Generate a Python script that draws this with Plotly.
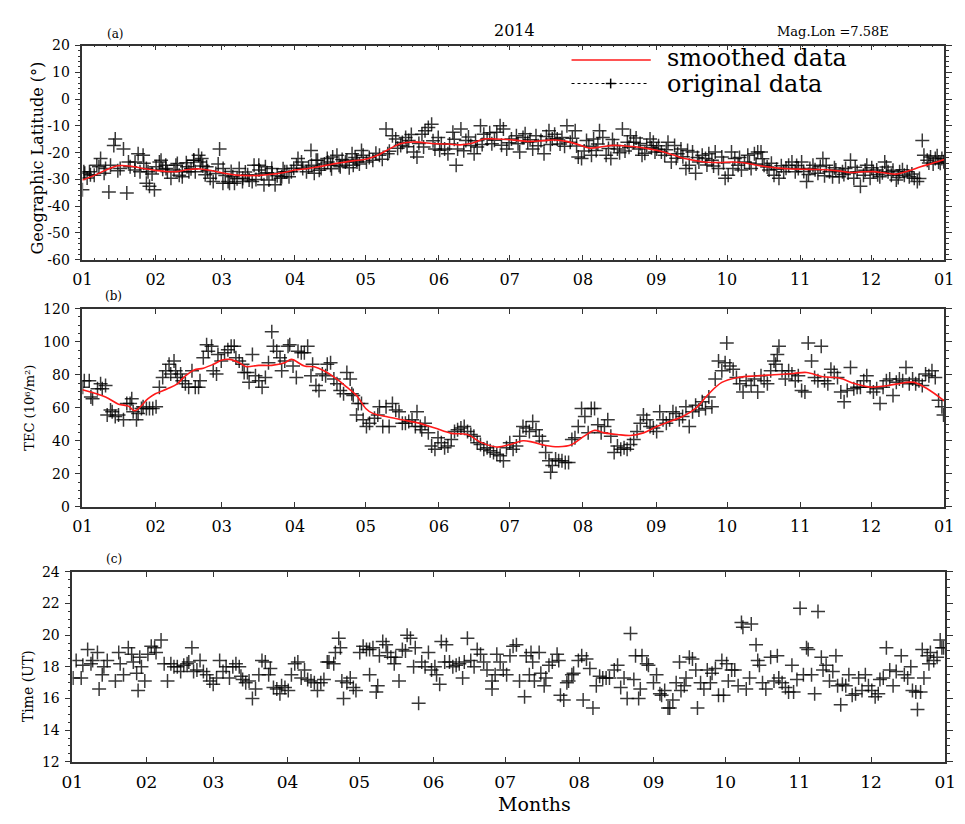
import plotly.graph_objects as go

# ---------------- data ----------------
month_days = [0, 31, 59, 90, 120, 151, 181, 212, 243, 273, 304, 334, 365]
month_labels = ["01", "02", "03", "04", "05", "06", "07", "08", "09", "10", "11", "12", "01"]

lat_ticks = [20, 10, 0, -10, -20, -30, -40, -50, -60]
lat_labels = ["20", "10", "0", "-10", "-20", "-30", "-40", "-50", "-60"]
tec_ticks = [0, 20, 40, 60, 80, 100, 120]
time_ticks = [12, 14, 16, 18, 20, 22, 24]

# (a) geographic latitude - original data (day of year, degrees)
a_day = [0, 1, 3, 5, 7, 7.7, 9.8, 11.2, 11.9, 13.3, 13.9, 17.4, 18.8, 19.5, 20.2, 22.2, 23.6, 25.7, 27.1, 28.4,
         30.5, 27.8, 31.2, 33.3, 35.3, 36, 38.8, 40.2, 42.3, 44.3, 47.1, 47.8, 49.2, 50.5, 52.6, 55.4, 58.1, 59.5,
         62.3, 63.7, 66.4, 67.8, 70.6, 71.9, 74.7, 77.5, 80.2, 81.6, 84.4, 85.7, 88.5, 91.3, 93.3, 96.8, 98.2,
         99.6, 103.7, 105.1, 107.8, 109.2, 112, 114.7, 116.1, 118.2,
         0.6, 3.4, 6.1, 9.2, 16, 22.3, 24.4, 27.1, 32.6, 35.4, 37.5, 39.6, 42.3, 45.1, 47.2, 49.9, 52, 54.1, 59.6,
         61.7, 64.4, 67.9, 70, 72.7, 74.8, 76.9, 79, 80.4, 83.9, 86.6, 90.7, 92.8, 94.9, 97, 99, 101.1, 103.9, 106,
         108.7, 111.4, 114.2, 116.3,
         2, 15, 26, 29.5, 34, 41, 44, 46, 51, 53, 56.5, 57.5, 60.5, 63, 65.5, 69, 73.5, 75.8, 78.2, 82.5, 85, 87.5,
         89.5, 95.8, 100.3, 102.5, 105.5, 110, 113, 115.5, 117.3,
         118.9, 120.3, 123, 125.8, 128.6, 129.3, 131.3, 132.7, 134.8, 136.9, 138.2, 140.3, 141.7, 143.8, 145.1,
         146.5, 147.9, 149.3, 150.7, 152, 153.4, 154.8, 156.9, 158.3, 158.9, 160.3, 162.4, 164.5, 165.9, 167.2,
         168.6, 170, 171.4, 173.4, 175.5, 176.9, 178.3, 179.7, 181.7, 183.8, 185.2, 186.6, 188.6, 190.7, 192.1,
         194.2, 195.5, 197.6, 199, 201.1, 203.1, 205.2, 206.6, 208.7, 210, 211.4, 213.5, 215.6, 217.6, 219, 220.4,
         221.8, 223.8, 225.2, 226.6, 228.7, 230.8, 232.1, 233.5, 235.6, 237, 239, 240.4, 241.8, 242.5,
         121.5, 124.3, 127, 130, 133.5, 135.5, 137.5, 139.3, 142.5, 144.5, 148.5, 151.3, 155.5, 157.5, 161.5, 163.5,
         166.5, 169.3, 172.5, 174.5, 177.5, 180.7, 184.5, 187.5, 189.6, 193, 196.5, 198.2, 200, 202.3, 204.2, 207.5,
         209.3, 212.5, 214.5, 216.5, 218.3, 222.8, 224.5, 227.5, 229.8, 231.5, 234.5, 236.2, 238.2, 241,
         243.2, 245.2, 246.6, 248, 249.4, 250.8, 252.1, 253.5, 255.6, 257, 258.4, 259.7, 261.1, 262.5, 263.9, 265.3,
         266.6, 268, 269.4, 270.8, 272.2, 273.5, 274.9, 276.3, 277.7, 279.1, 280.4, 281.8, 283.2, 284.6, 286, 287.4,
         288.7, 290.8, 292.9, 295, 297, 299.1, 300.5, 301.9, 303.2, 304.6, 306.7, 308.1, 309.4, 311.5, 313.6, 315,
         316.4, 317.7, 319.1, 320.5, 321.9, 323.2, 325.3, 326.7, 328.1, 329.5, 330.8, 332.2, 333.6, 335, 336.4,
         337.7, 339.8, 341.2, 342.6, 344.7, 346.1, 348.1, 350.2, 352.3, 353.6, 355.7, 356.4, 357.8, 359.2, 361.2,
         362.6, 364,
         244, 247.3, 251.5, 254.3, 256.3, 260.5, 264.5, 267.3, 271.5, 275.5, 278.3, 282.5, 285.3, 288, 290, 291.8,
         294, 296, 298, 302.5, 305.5, 307.5, 310.3, 312.5, 314.3, 318.5, 322.5, 324.3, 327.3, 331.5, 334.3, 336.8,
         338.8, 340.5, 343.3, 345.5, 347.3, 349.3, 351.3, 354.5, 358.5, 360.3, 362, 363.3, 364.8]
a_val = [-33.9, -27.7, -27.1, -28.4, -25.3, -22.2, -25.9, -34.7, -24.7, -17.3, -14.9, -18.6, -35.1, -23.5, -25.3,
         -26.5, -20.4, -21, -31.4, -32.6, -33.9, -27.1, -25.3, -22.8, -24.7, -27.1, -26.5, -24.1, -27.1, -25.3,
         -22.8, -27.1, -21, -22.2, -25.3, -30.8, -18.6, -31.4, -31.4, -29, -25.9, -30.8, -30.2, -30.8, -24.7, -25.3,
         -25.9, -32, -29, -27.1, -27.1, -22.2, -25.9, -19.2, -27.7, -22.8, -22.2, -24.7, -21, -25.3, -22.8, -24.7,
         -22.8, -19.2,
         -27.1, -28.3, -24.7, -27.7, -25.9, -23.5, -27.1, -25.9, -23.5, -25.9, -29.6, -24.7, -29, -27.1, -22.8,
         -23.5, -28.3, -29.6, -25.9, -30.8, -31.4, -29.6, -28.3, -24.7, -26.5, -32, -30.2, -27.7, -29.6, -27.1,
         -24.7, -23.5, -27.1, -24.7, -22.8, -25.9, -23.5, -21.6, -24.7, -23.5, -20.4, -23.5,
         -29.5, -26.8, -24, -28, -26.2, -28.4, -23.8, -26, -25, -26.8, -27.8, -24.2, -28.5, -27, -29.8, -27.2, -30,
         -28, -27.5, -28.6, -26, -29, -25.8, -25.4, -26.6, -24.2, -26, -22.6, -25.6, -21.8, -24.2,
         -21, -23.5, -22.8, -21, -11.2, -20.4, -13.7, -14.9, -17.3, -14.3, -15.5, -19.8, -21.6, -13.1, -11.8, -10.6,
         -9.4, -18.6, -14.3, -16.7, -18.6, -20.4, -12.4, -24.7, -18.6, -11.2, -15.5, -17.3, -20.4, -17.9, -10,
         -13.1, -14.9, -16.7, -12.4, -10, -11.2, -18.6, -14.9, -13.7, -19.8, -14.3, -16.1, -18.6, -13.7, -15.5,
         -20.4, -11.8, -14.9, -14.9, -14.3, -10, -16.1, -11.8, -21.6, -22.2, -15.5, -21, -19.2, -11.8, -14.3, -21,
         -22.2, -17.3, -18.6, -11.2, -16.1, -13.7, -16.1, -18.6, -21, -17.3, -14.9, -16.1, -19.8,
         -21.8, -20.2, -22.5, -19.5, -18.4, -16.2, -17.8, -13.2, -16.6, -17.9, -15.6, -19.1, -16.8, -15, -19.3,
         -14.2, -15.6, -17, -12.6, -15.4, -17.2, -16.3, -16.7, -12.9, -15.2, -17.4, -14, -17, -13.1, -16.8, -17.6,
         -14.6, -17.5, -19.4, -17.6, -14.9, -16.8, -18.5, -15.1, -20, -19.4, -18, -14.5, -16.6, -20.2, -18.2,
         -18.6, -19.8, -21, -16.1, -23.5, -17.3, -20.4, -18.6, -25.9, -24.7, -19.8, -27.7, -23.5, -21, -22.2, -20.4,
         -22.8, -19.8, -25.9, -21.6, -29.6, -28.4, -19.8, -22.2, -24.7, -26.5, -23.5, -21, -25.9, -20.4, -19.8,
         -19.8, -24.7, -26.5, -28.4, -29.6, -27.1, -24.7, -23.5, -27.1, -25.9, -23.5, -30.8, -25.9, -24.7, -27.7,
         -22.2, -24.7, -27.1, -29, -26.5, -29, -27.1, -25.9, -22.8, -29.6, -27.1, -32.6, -28.4, -24.7, -29.6,
         -27.1, -26.5, -29, -23.5, -27.1, -28.4, -30.2, -27.1, -28.4, -29, -29.6, -30.8, -15.5, -21, -22.8, -21.6,
         -22.2, -23.5, -22.2,
         -17.4, -18.9, -22.1, -21.5, -19.2, -21.8, -24.6, -25, -23.8, -25.9, -21.8, -23.9, -24.2, -22.3, -25.4,
         -24, -26.2, -24.9, -25.8, -24.8, -27, -28.2, -26.4, -25.2, -28.6, -25.6, -28.2, -27.6, -25.5, -26.6,
         -25.6, -28.3, -27.5, -25.4, -26.6, -29.3, -26.4, -27.1, -28, -29.7, -23.9, -24.2, -21.2, -24, -23.4]

# (a) smoothed latitude
as_day = [0, 5, 10, 15, 20, 25, 30, 35, 40, 45, 50, 55, 60, 65, 70, 75, 80, 85, 90, 95, 100, 105, 110, 115, 120,
          125, 130, 135, 140, 145, 150, 155, 160, 165, 170, 175, 180, 185, 190, 195, 200, 205, 210, 215, 220, 225,
          230, 235, 240, 245, 250, 255, 260, 265, 270, 275, 280, 285, 290, 295, 300, 305, 310, 315, 320, 325, 330,
          335, 340, 345, 350, 355, 360, 365]
as_val = [-30.2, -28.5, -26.5, -24.9, -25, -25.8, -26.5, -27, -27.1, -26.3, -26.1, -26.8, -27.7, -28.4, -28.6, -28.5,
          -28.1, -27.5, -26.5, -26, -25.3, -24.4, -23.7, -23, -22.5, -21, -18.6, -16.6, -16, -16.3, -16.7, -16.8,
          -17.1, -16.5, -14.9, -14.9, -15.1, -15.5, -15.8, -15.5, -15.3, -15.8, -17, -18.3, -17.8, -17.3, -17.5,
          -17.9, -18.6, -19.5, -20.8, -22.2, -23, -23.6, -23.7, -23.5, -23.8, -24.6, -25.3, -25.8, -26.1, -26.2,
          -26.3, -26.4, -26.8, -27.4, -27.2, -27.1, -27.6, -28, -26.8, -25.3, -24, -22.6]

# (b) TEC - original data
b_day = [0.1, 0.8, 2.9, 3.6, 4.3, 6.4, 7.7, 8.4, 9.8, 10.5, 11.9, 12.6, 13.9, 15.3, 17.4, 18.8, 20.2, 20.9, 21.5,
         22.9, 23.6, 25, 25.7, 27.1, 28.4, 29.8,
         31.2, 32.6, 34, 35.3, 36.7, 37.4, 38.8, 39.5, 40.2, 41.6, 42.3, 43.6, 45, 46.4, 47.8, 49.2, 49.8, 51.2, 52.6,
         53.3, 54.7, 55.4, 56.8, 57.4, 58.8,
         60.2, 61.6, 63, 64.3, 65, 66.4, 67.8, 68.5, 69.9, 70.6, 72, 73.3, 74.7, 76.1, 77.5, 78.8, 80.2, 80.9, 82.3,
         83.7, 84.4, 85.7, 87.1, 87.8,
         89.2, 90.6, 91.3, 92.7, 94, 95.4, 96.8, 97.5, 98.9, 100.2, 101.6, 103, 103.7, 105.1, 106.5, 107.8, 109.2,
         110.6, 112, 113.4, 114.1, 114.7, 116.1,
         116.8, 118.2, 118.9, 120.3, 121.6, 123.7, 125.1, 125.8, 127.2, 128.6, 129.9, 131.3, 132.7, 134.1, 135.5,
         136.8, 138.2, 139.6, 141, 141.7, 143.1, 143.7, 145.1, 146.5, 147.9, 149.3, 150.6, 152,
         153.4, 154.8, 156.2, 157.6, 158.9, 160.3, 161.7, 163.1, 164.5, 165.8, 167.2, 168.6,
         170, 171.4, 172.7, 174.1, 175.5, 176.9, 178.3, 179.6, 181, 182.4, 183.8, 185.2, 186.6, 187.9, 189.3, 190.7,
         192.1, 193.5, 194.8, 196.2, 197.6, 198.3, 199, 200.4, 201.7, 203.1, 204.5, 205.9, 207.3, 208.6, 210, 211.4,
         212.8, 214.2, 215.5, 216.9, 218.3, 219.7, 221.1, 222.5, 223.8, 225.2, 226.6, 228, 229.4, 230.7, 232.1,
         233.5, 234.9, 236.3, 237.6, 239, 240.4, 241.8, 243.2, 244.5, 245.9, 247.3, 248.7, 250.1, 251.4, 252.8,
         254.2, 255.6, 257, 258.4, 259.7, 261.1, 262.5, 263.9, 265.3, 266.6, 268, 269.4, 270.8, 272.2, 272.9, 274.2,
         275.6, 277, 278.4, 279.8, 281.1, 283.2, 284.6, 286, 287.4, 288.7, 290.1, 291.5, 292.9, 293.6, 294.3, 295,
         296.3, 297.7, 299.1, 300.5, 301.9, 303.2, 304.6, 306, 307.4, 308.8, 310.1, 311.5, 312.9, 314.3, 315.7, 317,
         318.4, 319.8, 321.2, 322.6, 323.9, 325.3, 326.7, 328.1, 329.5, 330.9, 332.2, 333.6, 335, 336.4, 337.8,
         339.1, 340.5, 341.9, 343.3, 344.7, 346, 347.4, 348.8, 350.2, 351.6, 352.9, 354.3, 355.7, 357.1, 358.5,
         359.8, 361.2, 362.6, 364, 364.7]
b_val = [72.5, 76.4, 76.4, 66.5, 65.5, 71.5, 74.5, 71.5, 73.5, 55.6, 58.6, 57.6, 54.7, 55.6, 52.7, 62.6, 62.6, 65.5,
         57.6, 52.7, 56.6, 59.6, 60.6, 59.6, 59.6, 59.6,
         60.6, 72.5, 78.4, 82.4, 86.3, 80.4, 88.3, 82.4, 78.4, 80.4, 76.4, 74.5, 72.5, 82.4, 72.5, 72.5, 76.4, 90.3,
         98.2, 94.3, 97.2, 82.4, 80.4, 92.3, 88.3,
         93.3, 95.2, 97.2, 97.2, 90.3, 88.3, 86.3, 81.4, 81.4, 75.4, 92.3, 79.4, 76.4, 72.5, 78.4, 87.3, 106.1, 97.2,
         94.3, 90.3, 82.4, 88.3, 97.2, 98.2,
         85.3, 78.4, 94.3, 93.3, 93.3, 97.2, 79.4, 86.3, 73.5, 70.5, 80.4, 79.4, 86.3, 87.3, 77.4, 74.5, 70.5, 68.5,
         81.4, 77.4, 68.5, 67.5, 55.6,
         62.6, 62.6, 52.7, 48.7, 50.7, 53.7, 55.6, 60.6, 48.7, 60.6, 48.7, 62.6, 58.6, 57.6, 50.7, 50.7, 51.7, 52.7,
         48.7, 57.6, 48.7, 46.7, 50.7, 44.8, 36.8, 34.9, 41.8, 38.8,
         35.8, 36.8, 40.8, 45.7, 46.7, 47.7, 48.7, 45.7, 43.8, 42.8, 38.8, 37.8,
         34.9, 35.8, 33.9, 32.9, 31.9, 30.9, 27.9, 35.8, 38.8, 34.9, 36.8, 42.8, 48.7, 47.7, 45.7, 51.7, 46.7, 42.8,
         39.8, 32.9, 27.9, 21, 25, 28.9, 27.9, 27.9, 26.9, 26.9, 40.8, 41.8, 48.7, 59.6, 54.7, 44.8, 59.6, 59.6,
         49.7, 44.8, 48.7, 52.7, 42.8, 32.9, 36.8, 34.9, 35.8, 34.9, 37.8, 40.8, 45.7, 50.7, 55.6, 52.7, 48.7, 47.7,
         45.7, 57.6, 52.7, 50.7, 52.7, 57.6, 56.6, 52.7, 54.7, 60.6, 48.7, 57.6, 61.6, 58.6, 63.6, 59.6, 66.5, 60.6,
         77.4, 88.3, 82.4, 87.3, 99.2, 85.3, 83.4, 78.4, 74.5, 69.5, 76.4, 73.5, 77.4, 69.5, 79.4, 76.4, 74.5, 82.4,
         88.3, 86.3, 92.3, 97.2, 82.4, 77.4, 82.4, 80.4, 76.4, 79.4, 70.5, 69.5, 99.2, 88.3, 78.4, 76.4, 97.2, 76.4,
         74.5, 83.4, 81.4, 78.4, 69.5, 63.6, 70.5, 84.4, 71.5, 72.5, 72.5, 76.4, 79.4, 72.5, 69.5, 71.5, 62.6, 72.5,
         76.4, 77.4, 67.5, 75.4, 77.4, 76.4, 84.4, 74.5, 77.4, 74.5, 76.4, 73.5, 80.4, 79.4, 82.4, 78.4, 64.6, 60.6,
         55.6]

# (b) smoothed TEC
bs_day = [0, 9.8, 15.3, 19.5, 22.2, 27.8, 30.9, 36, 40.2, 42.9, 47.1, 51.2, 55.4, 59.2, 62.3, 66.4, 69.2, 74.7,
          80.2, 85.7, 88.5, 94, 98.2, 102.3, 107.8, 112, 116.1, 120, 123, 128.6, 135.5, 142.4, 149.3, 156.2, 163.1,
          168.6, 175.5, 181.3, 186.6, 190.7, 196.2, 201.7, 207.3, 212.5, 216.9, 221.1, 226.6, 232.1, 237.6, 243.3,
          248.7, 254.2, 259.7, 265.3, 270.8, 277.7, 286, 292.9, 301.2, 306.7, 313.6, 320.5, 327.4, 334.3, 341.2,
          348.1, 352.3, 357.8, 365]
bs_val = [70.9, 66.5, 62.2, 61, 58.2, 65.5, 68.5, 71.5, 74.5, 78.4, 82.8, 84, 86.3, 88.9, 89.3, 87.3, 85, 85.7,
          85.7, 87.3, 89.3, 85.3, 84.8, 82.4, 77.4, 72.5, 67.5, 59.6, 56.6, 54.7, 52.7, 50.7, 47.7, 44.5, 43.8,
          39.2, 36.2, 37.8, 40, 39.2, 37.2, 36.4, 37.8, 42.8, 46.3, 44.8, 43.8, 43.2, 44.8, 48.7, 51.7, 54.7, 59.6,
          68.5, 75.4, 78.4, 79.4, 80, 80.8, 81.4, 78.8, 78, 74.5, 72.5, 73.5, 75.2, 75.4, 71.5, 64.2]

# (c) time (UT) of the observation
c_day = [0.3, 1.6, 3.7, 4.4, 6.4, 7.8, 8.5, 10.5, 11.2, 12.5, 13.2, 14.6, 18, 19.4, 20, 21.4, 23.4, 24.8, 25.5,
         26.9, 27.5, 28.2, 28.9, 30.3,
         31.6, 33, 34.4, 35, 37.1, 38.4, 39.8, 41.2, 42.5, 43.9, 45.3, 46.6, 48, 48.7, 50, 50.7, 52.1, 53.4, 54.8,
         56.2, 57.5,
         58.9, 60.3, 61.6, 63, 64.3, 65.7, 67.1, 68.4, 69.8, 70.5, 71.2, 72.5, 73.9, 75.3, 76.6, 78, 79.3, 80.7, 82.1,
         82.8, 84.1, 85.5, 86.8, 87.5, 88.9,
         90.3, 91.6, 93, 94.3, 95.7, 97.1, 98.4, 99.8, 101.2, 102.5, 103.9, 105.2, 106.6, 107.3, 109.3, 110, 111.4,
         112.1, 112.7, 113.4, 114.8, 116.2, 117.5, 118.6,
         120.2, 121.6, 123, 124.3, 124.3, 125.7, 127.1, 127.7, 128.4, 129.8, 131.2, 131.8, 133.2, 134.6, 135.2,
         136.6, 138, 139.3, 140, 141.4, 142.7, 143.4, 144.8, 146.1, 147.5, 148.9, 150.2,
         151.6, 152.3, 153.6, 154.3, 155.7, 156.4, 157.7, 159.1, 160.5, 161.8, 163.2, 163.9, 165.2, 166.6, 168,
         169.3, 170.7,
         172, 173.4, 175.5, 175.5, 176.8, 177.5, 178.9, 180.2, 181.6, 183, 184.3, 185.7, 187, 189.1, 189.8, 191.1,
         191.8, 192.5, 193.2, 195.2, 195.9, 197.3, 198, 199.3, 200.7, 202.7, 203.4, 204.1, 205.5, 206.8, 207.5,
         208.9, 209.6, 211.6, 213, 213.6, 215, 216.4, 217.7, 219.1, 220.5, 221.8, 223.2, 224.6, 226.6, 228, 229.3,
         230.7, 232, 233.4, 234.8, 235.5, 236.8, 237.5, 238.2, 240.2, 240.9, 243, 244.3, 245.7, 246.4, 247.7, 249.1,
         249.8, 251.1, 252.5, 253.9, 254.5, 255.9, 256.6, 258, 259.3, 260.7, 261.4, 262.7, 264.1, 265.5, 266.8,
         267.5, 268.9, 270.2, 271.6, 272.3, 273.6, 274.3, 275.7, 277, 278.4, 279.8, 280.4, 281.8, 283.2, 283.9,
         285.9, 286.6, 287.3, 288.6, 290, 292, 293.4, 294.8, 295.4, 296.8, 298.2, 299.5, 300.9, 301.6, 303, 304.3,
         305.7, 307, 307.7, 309.1, 310.4, 311.8, 313.2, 313.9, 315.2, 316.6, 318, 319.3, 320, 321.3, 322, 323.4,
         324.7, 326.1, 327.5, 328.8, 330.2, 331.6, 332.9, 334.3, 335.7, 337, 337.7, 339.1, 340.4, 341.8, 343.2,
         344.5, 346.6, 347.9, 349.3, 350.6, 351.3, 352.7, 353.4, 354.7, 355.4, 356.1, 357.5, 358.2, 358.8, 360.2,
         361.6, 362.9, 363.6, 364.3]
c_val = [17.3, 18.4, 17.3, 18.1, 19.1, 18.2, 18.4, 18.9, 16.6, 17.5, 18.0, 18.4, 17.1, 18.9, 18.2, 17.5, 19.2, 18.8,
         18.3, 17.6, 16.5, 18.6, 18.0, 17.1,
         18.8, 19.3, 19.2, 18.9, 19.7, 18.2, 17.1, 18.2, 18.0, 18.0, 17.7, 18.1, 18.2, 18.3, 19.2, 17.7, 17.8, 18.4,
         17.7, 17.5, 17.1,
         16.9, 17.3, 18.4, 17.7, 18.0, 17.3, 18.0, 18.2, 18.0, 17.4, 17.2, 17.0, 17.1, 16.0, 16.6, 17.5, 18.4, 18.3,
         17.5, 17.9, 16.7, 16.6, 16.3, 16.8, 16.7,
         16.5, 17.5, 18.2, 18.3, 17.3, 17.8, 17.2, 17.1, 17.0, 16.5, 17.0, 17.2, 18.3, 18.3, 18.2, 18.9, 19.8, 19.2,
         17.1, 16.0, 17.0, 17.3, 16.7, 16.5,
         18.9, 19.3, 19.1, 19.1, 17.5, 19.2, 16.4, 16.8, 18.7, 19.6, 19.4, 18.9, 18.6, 18.2, 18.6, 17.1, 19.1, 19.0,
         20.0, 19.8, 18.0, 19.2, 15.7, 18.3, 18.0, 18.9, 17.8,
         18.0, 17.5, 16.9, 19.6, 18.3, 19.4, 18.3, 18.0, 18.1, 18.2, 17.3, 18.3, 19.8, 18.4, 18.0, 19.1, 18.8,
         18.3, 17.8, 17.1, 16.6, 17.5, 18.8, 18.3, 17.8, 17.5, 18.7, 19.3, 19.4, 17.1, 16.1, 18.7, 17.5, 18.9, 18.3,
         17.1, 18.9, 17.6, 16.8, 17.3, 18.1, 18.3, 18.8, 18.4, 16.2, 15.9, 17.0, 17.1, 17.5, 17.6, 18.4, 18.7, 15.9,
         18.5, 17.9, 15.4, 16.8, 17.4, 17.3, 17.3, 17.3, 17.8, 18.1, 16.7, 17.3, 16.0, 20.1, 17.2, 18.7, 16.0, 16.6,
         18.7, 18.2, 18.1, 17.0, 17.5, 16.3, 16.2, 16.5, 15.4, 15.4, 15.9, 17.0, 18.3, 16.5, 16.8, 17.3, 18.6, 18.5,
         17.8, 15.4, 17.0, 16.6, 17.8, 17.0, 17.6, 17.9, 16.2, 18.4, 16.2, 18.2, 17.1, 17.8, 17.8, 16.8, 20.8,
         20.5, 16.6, 17.3, 20.7, 19.4, 18.4, 18.1, 17.0, 16.6, 18.6, 17.1, 18.7, 17.3, 17.0, 16.7, 16.4, 18.1, 16.4,
         17.2, 21.7, 17.5, 19.2, 19.1, 17.5, 16.3, 21.5, 18.6, 17.8, 18.1, 17.1, 17.7, 18.7, 16.8, 15.6, 16.9,
         16.8, 17.5, 16.2, 16.3, 17.3, 16.5, 17.5, 16.8, 16.5, 16.1, 16.3, 17.2, 17.3, 19.2, 17.8, 16.8, 17.7, 18.7,
         17.5, 17.3, 18.0, 16.5, 16.4, 15.3, 16.4, 19.1, 17.3, 18.7, 18.2, 18.9, 18.4, 18.6, 19.7, 19.2, 19.2]

# ---------------- figure ----------------
W, H = 965, 824
FONT = "DejaVu Serif"


def px(x):
    return x / W


def py(y):
    return 1 - y / H


cross = dict(symbol="cross-thin", size=10, color="black",
             line=dict(width=1.5, color="rgba(0,0,0,0.78)"))

fig = go.Figure()
fig.add_trace(go.Scatter(x=a_day, y=a_val, mode="markers", marker=cross, xaxis="x", yaxis="y",
                         name="original data", showlegend=False))
fig.add_trace(go.Scatter(x=as_day, y=as_val, mode="lines", line=dict(color="#ff1a1a", width=1.6, shape="spline"),
                         xaxis="x", yaxis="y", name="smoothed data", showlegend=False))
fig.add_trace(go.Scatter(x=b_day, y=b_val, mode="markers", marker=cross, xaxis="x2", yaxis="y2",
                         showlegend=False))
fig.add_trace(go.Scatter(x=bs_day, y=bs_val, mode="lines", line=dict(color="#ff1a1a", width=1.6, shape="spline"),
                         xaxis="x2", yaxis="y2", showlegend=False))
fig.add_trace(go.Scatter(x=c_day, y=c_val, mode="markers", marker=cross, xaxis="x3", yaxis="y3",
                         showlegend=False))

axcol = "#333333"


def xax(domain, anchor, size, minor=True):
    d = dict(domain=domain, anchor=anchor, range=[0, 365], tickmode="array", tickvals=month_days,
             ticktext=month_labels, ticks="inside", ticklen=5, tickwidth=1.2, tickcolor=axcol,
             showline=True, linecolor=axcol, linewidth=1.6, mirror="ticks", showgrid=False, zeroline=False,
             tickfont=dict(family=FONT, size=size, color="black"), ticklabelstandoff=4)
    if minor:
        d["minor"] = dict(tickmode="linear", tick0=0, dtick=5, ticks="inside", ticklen=2, tickcolor=axcol)
    return d


def yax(domain, anchor, rng, tickvals, ticktext, mdt, size):
    return dict(domain=domain, anchor=anchor, range=rng, tickmode="array", tickvals=tickvals, ticktext=ticktext,
                ticks="outside", ticklen=6, tickwidth=1.2, tickcolor=axcol, showline=True, linecolor=axcol,
                linewidth=1.6, mirror="ticks", showgrid=False, zeroline=False,
                minor=dict(tickmode="linear", tick0=rng[0], dtick=mdt, ticks="outside", ticklen=3,
                           tickcolor=axcol),
                tickfont=dict(family=FONT, size=size, color="black"), ticklabelstandoff=2)


fig.update_layout(
    width=W, height=H, margin=dict(l=0, r=0, t=0, b=0), paper_bgcolor="white", plot_bgcolor="white",
    font=dict(family=FONT, color="black"),
    xaxis=xax([px(73), px(954)], "y", 16),
    yaxis=yax([py(256.7), py(38.3)], "x", [-60, 20], lat_ticks, lat_labels, 2, 14),
    xaxis2=xax([px(73), px(954)], "y2", 16, minor=False),
    yaxis2=yax([py(508.7), py(306.7)], "x2", [0, 120], tec_ticks, [str(v) for v in tec_ticks], 5, 14),
    xaxis3=xax([px(62.7), px(955)], "y3", 17, minor=False),
    yaxis3=yax([py(768.7), py(575)], "x3", [12, 24], time_ticks, [str(v) for v in time_ticks], 0.5, 14),
    showlegend=False,
)

ann = [
    dict(text="(a)", x=px(107), y=py(27), size=12),
    dict(text="(b)", x=px(105), y=py(294), size=12),
    dict(text="(c)", x=px(105), y=py(562), size=12),
    dict(text="2014", x=px(515), y=py(23), size=16),
    dict(text="Mag.Lon =7.58E", x=px(840), y=py(24), size=13),
    dict(text="Months", x=px(535), y=py(812), size=19),
]
for a in ann:
    fig.add_annotation(text=a["text"], x=a["x"], y=a["y"], xref="paper", yref="paper", showarrow=False,
                       xanchor="center", yanchor="middle", font=dict(family=FONT, size=a["size"], color="black"))

for text, x, y, size in [("Geographic Latitude (°)", 27, 153, 16), ("TEC (10⁶/m²)", 18, 408, 13),
                         ("Time (UT)", 17, 692, 14)]:
    fig.add_annotation(text=text, x=px(x), y=py(y), xref="paper", yref="paper", showarrow=False, textangle=-90,
                       xanchor="center", yanchor="middle", font=dict(family=FONT, size=size, color="black"))

# legend (drawn in layout space)
fig.add_shape(type="line", xref="paper", yref="paper", x0=px(573), x1=px(654), y0=py(53), y1=py(53),
              line=dict(color="#ff1a1a", width=1.6))
fig.add_shape(type="line", xref="paper", yref="paper", x0=px(573), x1=px(652), y0=py(77), y1=py(77),
              line=dict(color="black", width=1.2, dash="dot"))
fig.add_shape(type="line", xref="paper", yref="paper", x0=px(608), x1=px(618), y0=py(77), y1=py(77),
              line=dict(color="black", width=1.5))
fig.add_shape(type="line", xref="paper", yref="paper", x0=px(613), x1=px(613), y0=py(72), y1=py(82),
              line=dict(color="black", width=1.5))
for text, y in [("smoothed data", 51), ("original data", 77)]:
    fig.add_annotation(text=text, x=px(670), y=py(y), xref="paper", yref="paper", showarrow=False,
                       xanchor="left", yanchor="middle", font=dict(family=FONT, size=24, color="black"),
                       borderpad=0)

fig.write_html("out.html")
